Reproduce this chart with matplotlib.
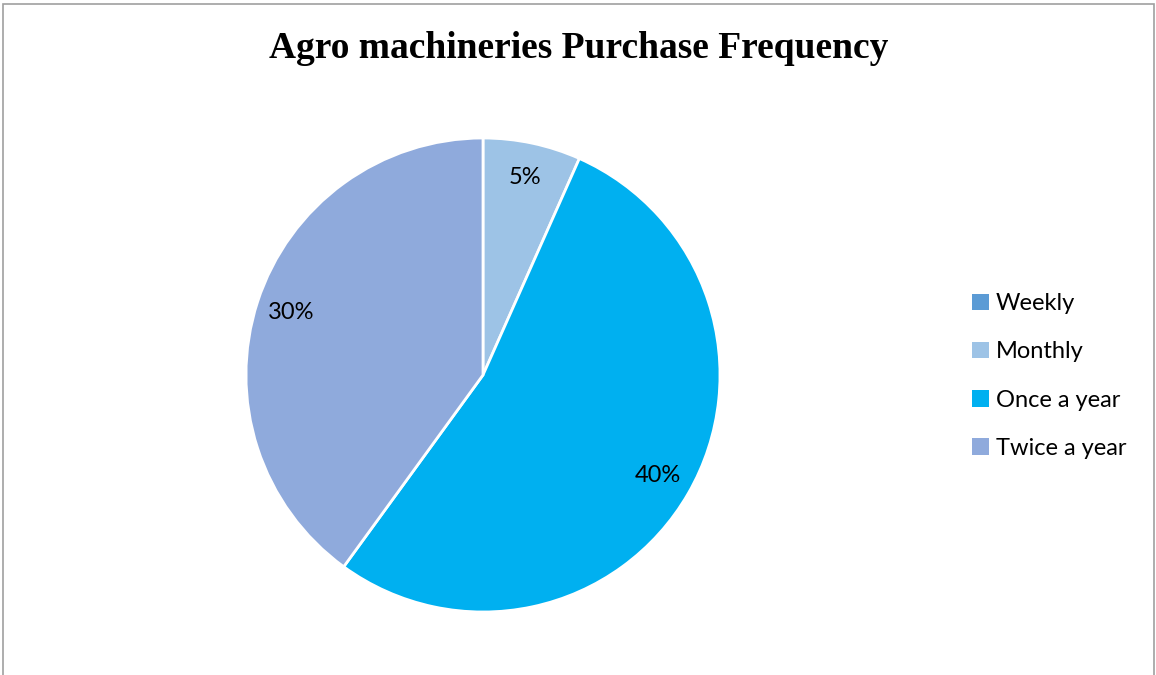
import matplotlib
matplotlib.use("Agg")
import matplotlib.pyplot as plt
from matplotlib.patches import Patch, Rectangle

categories = ["Weekly", "Monthly", "Once a year", "Twice a year"]
values = [0, 5, 40, 30]
colors = ["#5B9BD5", "#9DC3E6", "#00B0F0", "#8FAADC"]

W, H = 1156, 675
fig = plt.figure(figsize=(W / 100, H / 100), dpi=100)

# outer chart border
fig.patches.append(Rectangle((3 / W, -0.01), 1151 / W, (H - 4) / H + 0.01,
                             transform=fig.transFigure, fill=False,
                             edgecolor="#A0A0A0", linewidth=1.2))

fig.text(579 / W, 1 - 49 / H, "Agro machineries Purchase Frequency",
         ha="center", va="center", fontsize=27, fontweight="bold",
         family="Liberation Serif")

cx, cy, r = 483, 375, 237
ax = fig.add_axes([(cx - r) / W, (H - cy - r) / H, 2 * r / W, 2 * r / H])
total = sum(values)


def fmt(p):
    v = p * total / 100
    return "" if v < 0.5 else f"{v:.0f}%"


wedges, texts, autotexts = ax.pie(
    values, colors=colors, startangle=90, counterclock=False, radius=1,
    autopct=fmt, pctdistance=0.85,
    wedgeprops=dict(edgecolor="white", linewidth=2),
    textprops=dict(fontsize=17, family="Lato", color="black"))
ax.set_xlim(-1, 1)
ax.set_ylim(-1, 1)
ax.set_aspect("equal")

handles = [Patch(facecolor=c, edgecolor="none") for c in colors]
fig.legend(handles, categories, loc="center left",
           bbox_to_anchor=(972 / W, 1 - 376 / H), frameon=False,
           borderpad=0, borderaxespad=0,
           handlelength=0.7, handleheight=0.7, handletextpad=0.3,
           labelspacing=1.15, prop=dict(family="Lato", size=17))

fig.savefig("out.png", dpi=100, facecolor="white")
